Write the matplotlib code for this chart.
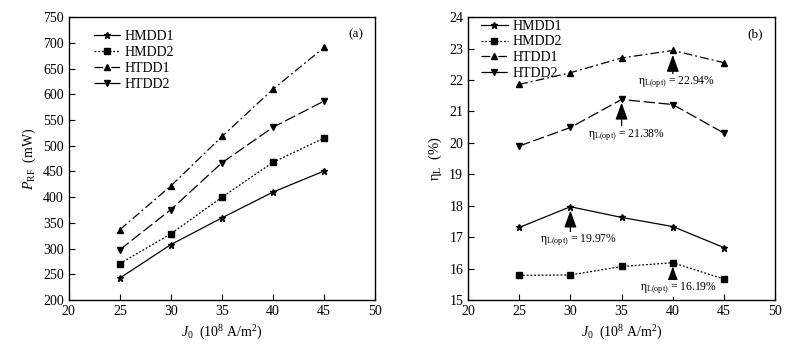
import matplotlib
matplotlib.use("Agg")
import matplotlib.pyplot as plt

plt.rcParams["font.family"] = ["Liberation Serif", "DejaVu Serif"]
plt.rcParams["mathtext.fontset"] = "custom"
plt.rcParams["mathtext.rm"] = "Liberation Serif"
plt.rcParams["mathtext.it"] = "Liberation Serif:italic"
plt.rcParams["font.size"] = 9.5

# current density J0 (10^8 A/m^2)
j0 = [25, 30, 35, 40, 45]

# (a) RF power, mW
p_hmdd1 = [243, 308, 360, 410, 451]
p_hmdd2 = [271, 329, 400, 468, 515]
p_htdd1 = [337, 422, 518, 610, 691]
p_htdd2 = [298, 376, 467, 536, 587]

# (b) efficiency, %
e_hmdd1 = [17.31, 17.97, 17.63, 17.34, 16.67]
e_hmdd2 = [15.79, 15.80, 16.07, 16.19, 15.67]
e_htdd1 = [21.86, 22.23, 22.70, 22.94, 22.55]
e_htdd2 = [19.90, 20.49, 21.38, 21.22, 20.31]

labels = ["HMDD1", "HMDD2", "HTDD1", "HTDD2"]
styles = [
    dict(ls="-", marker="*", ms=5),
    dict(ls=(0, (1.5, 1.5)), marker="s", ms=4),
    dict(ls=(0, (7, 2.5, 1.5, 2.5)), marker="^", ms=4.5),
    dict(ls=(0, (9, 3)), marker="v", ms=4.5),
]

fig = plt.figure(figsize=(8, 3.49), dpi=100)
ax1 = fig.add_axes([0.086, 0.140, 0.383, 0.811])
ax2 = fig.add_axes([0.585, 0.140, 0.384, 0.811])

for ys, lab, st in zip([p_hmdd1, p_hmdd2, p_htdd1, p_htdd2], labels, styles):
    ax1.plot(j0, ys, color="black", lw=0.9, label=lab, **st)
for ys, lab, st in zip([e_hmdd1, e_hmdd2, e_htdd1, e_htdd2], labels, styles):
    ax2.plot(j0, ys, color="black", lw=0.9, label=lab, **st)

for ax in (ax1, ax2):
    ax.set_xlim(20, 50)
    ax.set_xticks([20, 25, 30, 35, 40, 45, 50])
    ax.tick_params(direction="in", length=4, top=False, right=False, labelsize=10)
    for sp in ax.spines.values():
        sp.set_linewidth(1.0)
    ax.set_xlabel(r"$J_{\rm 0}$  (10$^{8}$ A/m$^{2}$)", fontsize=10)

ax1.set_ylim(200, 750)
ax1.set_yticks(range(200, 751, 50))
ax1.set_ylabel(r"$P_{\rm RF}$  (mW)", fontsize=10)
ax1.legend(loc="upper left", bbox_to_anchor=(0.04, 1.0), frameon=False,
           handlelength=1.9, handletextpad=0.3, labelspacing=0.22, fontsize=10)
ax1.text(0.96, 0.94, "(a)", transform=ax1.transAxes, ha="right", va="center")

ax2.set_ylim(15, 24)
ax2.set_yticks(range(15, 25))
ax2.set_ylabel("η$_{\\rm L}$  (%)", fontsize=10.5)
ax2.legend(loc="upper left", bbox_to_anchor=(0.0, 1.035), frameon=False,
           handlelength=2.0, handletextpad=0.3, labelspacing=0.2, fontsize=10)
ax2.text(0.96, 0.94, "(b)", transform=ax2.transAxes, ha="right", va="center")

arrow = dict(arrowstyle="-|>,head_length=1.1,head_width=0.4", color="black", lw=0.9,
             shrinkA=0, shrinkB=0)
notes = [
    (40, 22.80, 22.18, 40.4, 21.94, "22.94%"),
    (35, 21.28, 20.55, 35.5, 20.25, "21.38%"),
    (30, 17.85, 17.11, 30.75, 16.91, "19.97%"),
    (40, 16.07, 15.50, 40.6, 15.37, "16.19%"),
]
for x, yh, yt, tx, ty, val in notes:
    ax2.annotate("", xy=(x, yh), xytext=(x, yt), arrowprops=arrow)
    ax2.text(tx, ty, "η$_{\\rm L(opt)}$ = " + val, ha="center", va="center",
             fontsize=8.4, bbox=dict(fc="white", ec="none", pad=0.3))

fig.savefig("out.png", dpi=100)
